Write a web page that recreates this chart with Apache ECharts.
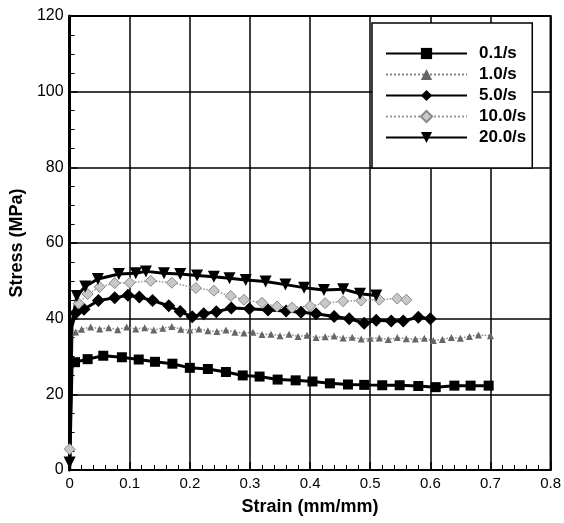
<!DOCTYPE html>
<html>
<head>
<meta charset="utf-8">
<script src="https://cdn.jsdelivr.net/npm/echarts@6/dist/echarts.min.js"></script>
<style>
  html, body { margin: 0; padding: 0; background: #fff; }
  #chart { width: 564px; height: 523px; }
</style>
</head>
<body>
<div id="chart"></div>
<script>
// strain rate labels
const rateNames = ['0.1/s', '1.0/s', '5.0/s', '10.0/s', '20.0/s'];

// [strain, stress]
const rate01 = [[0, 0], [0.004, 27], [0.009, 28.5], [0.03, 29.3], [0.056, 30.2], [0.087, 29.8], [0.115, 29.2],
  [0.142, 28.6], [0.171, 28.1], [0.2, 27.0], [0.23, 26.7], [0.26, 25.9], [0.288, 25.0], [0.316, 24.7],
  [0.346, 23.9], [0.376, 23.7], [0.404, 23.4], [0.433, 22.9], [0.463, 22.6], [0.49, 22.5], [0.52, 22.4],
  [0.549, 22.4], [0.58, 22.2], [0.609, 21.9], [0.64, 22.3], [0.667, 22.3], [0.697, 22.3]];
const rate1 = [[0, 0], [0.003, 34], [0.01, 36.5], [0.02, 37.2], [0.035, 37.8], [0.05, 37.3], [0.065, 37.6],
  [0.08, 37.1], [0.095, 37.8], [0.11, 37.3], [0.125, 37.6], [0.14, 37.0], [0.155, 37.5], [0.17, 37.9],
  [0.185, 37.2], [0.2, 37.0], [0.215, 37.3], [0.23, 36.8], [0.245, 36.6], [0.26, 37.0], [0.275, 36.4],
  [0.29, 36.2], [0.305, 36.4], [0.32, 35.8], [0.335, 35.9], [0.35, 35.5], [0.365, 35.9], [0.38, 35.3],
  [0.395, 35.6], [0.41, 35.0], [0.425, 35.2], [0.44, 35.4], [0.455, 34.9], [0.47, 35.1], [0.485, 34.6],
  [0.5, 34.8], [0.515, 34.9], [0.53, 34.5], [0.545, 35.0], [0.56, 34.7], [0.575, 34.6], [0.59, 34.8],
  [0.605, 34.2], [0.62, 34.5], [0.635, 35.0], [0.65, 34.8], [0.665, 35.3], [0.68, 35.7], [0.7, 35.5]];
const rate5 = [[0, 0], [0.004, 38], [0.01, 41.5], [0.024, 42.5], [0.048, 44.8], [0.075, 45.5], [0.097, 46.2],
  [0.116, 45.7], [0.138, 44.8], [0.165, 43.4], [0.184, 41.9], [0.204, 40.5], [0.223, 41.3], [0.244, 41.8],
  [0.269, 42.8], [0.299, 42.6], [0.33, 42.3], [0.36, 42.0], [0.385, 41.7], [0.41, 41.3], [0.44, 40.6],
  [0.465, 40.0], [0.49, 38.8], [0.51, 39.6], [0.535, 39.4], [0.555, 39.4], [0.58, 40.4], [0.6, 40.0]];
const rate10 = [[0, 5.5], [0.004, 40], [0.015, 44], [0.03, 46.5], [0.05, 48.4], [0.075, 49.4], [0.1, 49.5],
  [0.135, 50.0], [0.17, 49.5], [0.21, 48.1], [0.24, 47.4], [0.268, 46.0], [0.29, 45.0], [0.32, 44.2],
  [0.345, 43.2], [0.37, 42.9], [0.4, 43.3], [0.425, 44.1], [0.455, 44.6], [0.485, 44.8], [0.515, 45.0],
  [0.545, 45.3], [0.56, 45.0]];
const rate20 = [[0, 2], [0.003, 38], [0.012, 46], [0.026, 48.5], [0.047, 50.5], [0.082, 51.8], [0.11, 52.0],
  [0.127, 52.5], [0.157, 52.0], [0.184, 51.8], [0.212, 51.4], [0.24, 51.1], [0.266, 50.7], [0.293, 50.2],
  [0.326, 49.8], [0.359, 49.0], [0.39, 48.2], [0.423, 47.6], [0.455, 47.8], [0.483, 46.6], [0.51, 46.1]];

// indices drawn without a marker (the steep elastic rise)
const plain01 = [0, 1];
const plain1 = [0, 1];
const plain5 = [0, 1];
const plain10 = [1];
const plain20 = [1];

const fontFamily = '"Liberation Sans", Arial, sans-serif';

function toData(points, plain) {
  return points.map((p, i) => plain.includes(i) ? { value: p, symbol: 'none' } : { value: p });
}

const chart = echarts.init(document.getElementById('chart'), null, { renderer: 'canvas' });

const option = {
  backgroundColor: '#fff',
  animation: false,
  grid: {
    left: 61, right: 13, top: 16, bottom: 53,
    show: true, borderColor: '#000', borderWidth: 2
  },
  legend: {
    left: 372, top: 23,
    orient: 'vertical',
    backgroundColor: '#fff',
    borderColor: '#000', borderWidth: 1.5,
    padding: [22, 6, 22, 13],
    itemWidth: 81, itemHeight: 14, itemGap: 4,
    textStyle: { fontFamily, fontWeight: 'bold', fontSize: 17, color: '#000', padding: [0, 0, 0, 7] },
    data: rateNames
  },
  xAxis: {
    type: 'value', min: 0, max: 0.8, interval: 0.1,
    name: 'Strain (mm/mm)', nameLocation: 'middle', nameGap: 28,
    nameTextStyle: { fontFamily, fontWeight: 'bold', fontSize: 18, color: '#000' },
    axisLine: { lineStyle: { color: '#000', width: 2 } },
    axisTick: { inside: true, length: 8, lineStyle: { color: '#000', width: 1.5 } },
    minorTick: { show: true, splitNumber: 5, length: 5, lineStyle: { color: '#000', width: 1 } },
    axisLabel: { fontFamily, fontSize: 15, color: '#000', margin: 6 },
    splitLine: { show: true, lineStyle: { color: '#000', width: 1.5 } }
  },
  yAxis: {
    type: 'value', min: 0, max: 120, interval: 20,
    name: 'Stress (MPa)', nameLocation: 'middle', nameGap: 40,
    nameTextStyle: { fontFamily, fontWeight: 'bold', fontSize: 18, color: '#000' },
    axisLine: { show: true, lineStyle: { color: '#000', width: 3 } },
    axisTick: { show: true, inside: true, length: 8, lineStyle: { color: '#000', width: 1.5 } },
    minorTick: { show: true, splitNumber: 4, length: 5, lineStyle: { color: '#000', width: 1 } },
    axisLabel: { fontFamily, fontSize: 16, color: '#000', margin: 6 },
    splitLine: { show: true, lineStyle: { color: '#000', width: 1.5 } }
  },
  series: [
    {
      name: rateNames[0], type: 'line', data: toData(rate01, plain01),
      symbol: 'rect', symbolSize: 10,
      lineStyle: { color: '#000', width: 3 }, itemStyle: { color: '#000' }
    },
    {
      name: rateNames[1], type: 'line', data: toData(rate1, plain1),
      symbol: 'triangle', symbolSize: 7,
      lineStyle: { color: '#888', width: 1.5, type: 'dotted' }, itemStyle: { color: '#666' }
    },
    {
      name: rateNames[2], type: 'line', data: toData(rate5, plain5),
      symbol: 'diamond', symbolSize: 13,
      lineStyle: { color: '#000', width: 3 }, itemStyle: { color: '#000' }
    },
    {
      name: rateNames[3], type: 'line', data: toData(rate10, plain10),
      symbol: 'diamond', symbolSize: 11,
      lineStyle: { color: '#999', width: 1.5, type: 'dotted' },
      itemStyle: { color: '#c8c8c8', borderColor: '#888', borderWidth: 1 }
    },
    {
      name: rateNames[4], type: 'line', data: toData(rate20, plain20),
      symbol: 'triangle', symbolRotate: 180, symbolSize: 12,
      lineStyle: { color: '#000', width: 3 }, itemStyle: { color: '#000' }
    }
  ]
};

chart.setOption(option);
</script>
</body>
</html>
